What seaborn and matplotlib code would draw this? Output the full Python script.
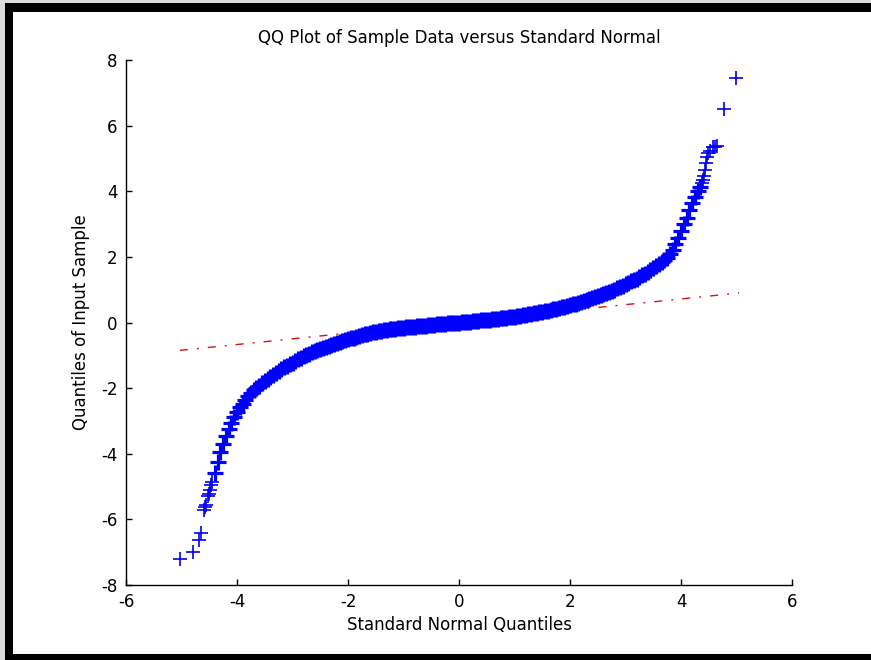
import pandas as pd
import seaborn as sb
import matplotlib
matplotlib.use("Agg")
import matplotlib.pyplot as plt
from matplotlib.patches import Rectangle

# dense middle of the QQ curve
# (x = standard normal quantile, y = sample quantile)
neg_x = [-4.40, -4.35, -4.30, -4.25, -4.20, -4.15, -4.10, -4.05, -4.00, -3.95,
         -3.90, -3.85, -3.80, -3.75, -3.70, -3.65, -3.60, -3.55, -3.50, -3.45,
         -3.40, -3.35, -3.30, -3.25, -3.20, -3.15, -3.10, -3.05, -3.00, -2.95,
         -2.90, -2.85, -2.80, -2.75, -2.70, -2.65, -2.60, -2.55, -2.50, -2.45,
         -2.40, -2.35, -2.30, -2.25, -2.20, -2.15, -2.10, -2.05, -2.00, -1.95,
         -1.90, -1.85, -1.80, -1.75, -1.70, -1.65, -1.60, -1.55, -1.50, -1.45,
         -1.40, -1.35, -1.30, -1.25, -1.20, -1.15, -1.10, -1.05, -1.00, -0.95,
         -0.90, -0.85, -0.80, -0.75, -0.70, -0.65, -0.60, -0.55, -0.50, -0.45,
         -0.40, -0.35, -0.30, -0.25, -0.20, -0.15, -0.10, -0.05]
neg_y = [-4.58, -4.25, -3.96, -3.70, -3.45, -3.24, -3.05, -2.88, -2.73, -2.59,
         -2.47, -2.36, -2.25, -2.15, -2.07, -1.99, -1.92, -1.85, -1.78, -1.72,
         -1.66, -1.60, -1.54, -1.48, -1.42, -1.37, -1.32, -1.27, -1.22, -1.17,
         -1.12, -1.08, -1.03, -0.99, -0.95, -0.91, -0.87, -0.84, -0.80, -0.77,
         -0.74, -0.71, -0.68, -0.65, -0.62, -0.59, -0.57, -0.54, -0.51, -0.48,
         -0.46, -0.43, -0.41, -0.38, -0.36, -0.34, -0.32, -0.30, -0.28, -0.27,
         -0.25, -0.24, -0.22, -0.21, -0.20, -0.19, -0.18, -0.17, -0.16, -0.15,
         -0.14, -0.13, -0.13, -0.12, -0.11, -0.10, -0.10, -0.09, -0.08, -0.07,
         -0.06, -0.06, -0.05, -0.04, -0.03, -0.02, -0.02, -0.01]

pos_x = [0.00, 0.05, 0.10, 0.15, 0.20, 0.25, 0.30, 0.35, 0.40, 0.45,
         0.50, 0.55, 0.60, 0.65, 0.70, 0.75, 0.80, 0.85, 0.90, 0.95,
         1.00, 1.05, 1.10, 1.15, 1.20, 1.25, 1.30, 1.35, 1.40, 1.45,
         1.50, 1.55, 1.60, 1.65, 1.70, 1.75, 1.80, 1.85, 1.90, 1.95,
         2.00, 2.05, 2.10, 2.15, 2.20, 2.25, 2.30, 2.35, 2.40, 2.45,
         2.50, 2.55, 2.60, 2.65, 2.70, 2.75, 2.80, 2.85, 2.90, 2.95,
         3.00, 3.05, 3.10, 3.15, 3.20, 3.25, 3.30, 3.35, 3.40, 3.45,
         3.50, 3.55, 3.60, 3.65, 3.70, 3.75, 3.80, 3.85, 3.90, 3.95,
         4.00, 4.05, 4.10, 4.15, 4.20, 4.25, 4.30, 4.35]
pos_y = [0.00, 0.01, 0.02, 0.02, 0.03, 0.04, 0.05, 0.06, 0.07, 0.07,
         0.08, 0.09, 0.10, 0.11, 0.12, 0.13, 0.14, 0.15, 0.16, 0.17,
         0.18, 0.19, 0.21, 0.22, 0.23, 0.25, 0.26, 0.28, 0.29, 0.31,
         0.32, 0.34, 0.36, 0.38, 0.40, 0.42, 0.44, 0.46, 0.48, 0.50,
         0.52, 0.55, 0.57, 0.60, 0.62, 0.65, 0.68, 0.71, 0.74, 0.77,
         0.80, 0.83, 0.86, 0.89, 0.93, 0.96, 1.00, 1.04, 1.08, 1.12,
         1.16, 1.20, 1.25, 1.29, 1.34, 1.39, 1.44, 1.49, 1.54, 1.59,
         1.65, 1.71, 1.77, 1.84, 1.91, 1.98, 2.08, 2.22, 2.39, 2.58,
         2.80, 3.00, 3.20, 3.42, 3.64, 3.84, 4.00, 4.13]

# sparse tails (single crosses)
lo_x = [-5.03, -4.79, -4.68, -4.65, -4.59, -4.58, -4.56, -4.53, -4.51, -4.49, -4.47, -4.45]
lo_y = [-7.20, -7.00, -6.63, -6.42, -5.70, -5.62, -5.55, -5.30, -5.22, -5.10, -4.95, -4.85]
hi_x = [4.38, 4.40, 4.41, 4.43, 4.45, 4.47, 4.49, 4.52, 4.58, 4.62, 4.65, 4.77, 4.99]
hi_y = [4.25, 4.35, 4.45, 4.65, 4.85, 5.04, 5.16, 5.22, 5.35, 5.36, 5.38, 6.50, 7.45]

# reference line through the quartiles
line_x = [-5.03, 5.05]
line_y = [-0.85, 0.90]

band = pd.DataFrame({"theo": neg_x + pos_x, "sample": neg_y + pos_y})
tails = pd.DataFrame({"theo": lo_x + hi_x, "sample": lo_y + hi_y})

sb.set_style("ticks")
plt.rcParams["font.family"] = ["DejaVu Sans"]
plt.rcParams["axes.unicode_minus"] = False
plt.rcParams["text.color"] = "black"
plt.rcParams["axes.labelcolor"] = "black"

W, H = 871, 660
fig = plt.figure(figsize=(W / 100, H / 100), dpi=100)
ax = fig.add_axes([126 / W, 1 - 585 / H, 666 / W, 525 / H])

sb.lineplot(x=line_x, y=line_y, ax=ax, color="#c81818", linewidth=1.0, zorder=1)
ax.lines[-1].set_dashes([5.8, 6.5, 1.4, 6.5])

sb.scatterplot(data=band, x="theo", y="sample", ax=ax, marker="+",
               s=145, color="#0000ff", linewidth=2.3, zorder=2)
sb.scatterplot(data=tails, x="theo", y="sample", ax=ax, marker="+",
               s=90, color="#0000ee", linewidth=1.2, zorder=2)

ax.set_xlim(-6, 6)
ax.set_ylim(-8, 8)
ax.set_xticks([-6, -4, -2, 0, 2, 4, 6])
ax.set_yticks([-8, -6, -4, -2, 0, 2, 4, 6, 8])
ax.tick_params(direction="in", length=4.5, width=1.0, labelsize=12, pad=6,
               colors="black", labelcolor="black")
for side in ["top", "right"]:
    ax.spines[side].set_visible(False)
for side in ["left", "bottom"]:
    ax.spines[side].set_linewidth(1.0)
    ax.spines[side].set_color("black")

ax.set_title("QQ Plot of Sample Data versus Standard Normal", fontsize=12, pad=12,
             color="black")
ax.set_xlabel("Standard Normal Quantiles", fontsize=12, labelpad=3)
ax.set_ylabel("Quantiles of Input Sample", fontsize=12, labelpad=8)


def frame(x0, y0, x1, y1, color):
    # pixel box (from top-left) -> figure rectangle
    fig.add_artist(Rectangle((x0 / W, 1 - y1 / H), (x1 - x0) / W, (y1 - y0) / H,
                             transform=fig.transFigure, color=color, lw=0))


frame(0, 0, W, 3, "#dcdcdc")
frame(0, 0, 5, H, "#dcdcdc")
frame(5, 3, W, 12, "black")
frame(5, 3, 13, H, "black")
frame(5, 654, W, H, "black")

fig.savefig("out.png", dpi=100)
